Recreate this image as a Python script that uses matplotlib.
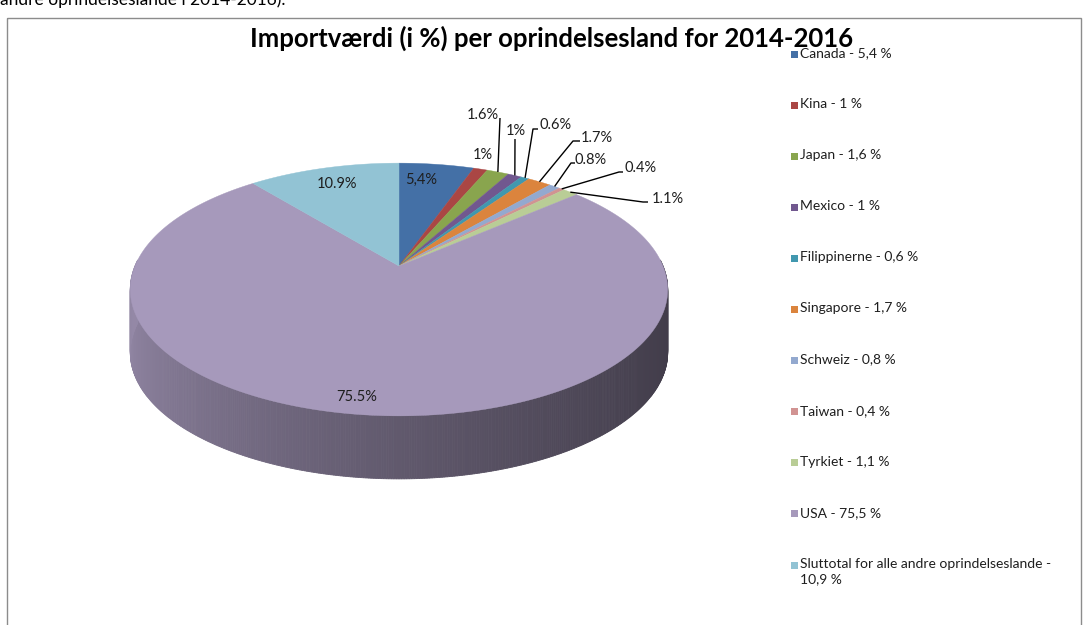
import numpy as np
import matplotlib
matplotlib.use("Agg")
import matplotlib.pyplot as plt
from matplotlib.patches import Polygon, Rectangle
from matplotlib.colors import to_rgb

# ---------------- data ----------------
categories = ["Canada", "Kina", "Japan", "Mexico", "Filippinerne", "Singapore",
              "Schweiz", "Taiwan", "Tyrkiet", "USA",
              "Sluttotal for alle andre oprindelseslande"]
values = [5.4, 1.0, 1.6, 1.0, 0.6, 1.7, 0.8, 0.4, 1.1, 75.5, 10.9]
legend_labels = ["Canada - 5,4 %", "Kina - 1 %", "Japan - 1,6 %", "Mexico - 1 %",
                 "Filippinerne - 0,6 %", "Singapore - 1,7 %", "Schweiz - 0,8 %",
                 "Taiwan - 0,4 %", "Tyrkiet - 1,1 %", "USA - 75,5 %",
                 "Sluttotal for alle andre oprindelseslande -\n10,9 %"]
slice_labels = ["5,4%", "1%", "1.6%", "1%", "0.6%", "1.7%", "0.8%", "0.4%",
                "1.1%", "75.5%", "10.9%"]
title = "Importværdi (i %) per oprindelsesland for 2014-2016"
top_text = "andre oprindelseslande i 2014-2016)."

# ---------------- style / layout ----------------
colors = ["#4470A6", "#AA4644", "#89A54E", "#71588F", "#4198AF", "#DB843D",
          "#93A9CF", "#D19392", "#B9CD96", "#A699BB", "#92C3D4"]
FONT = "Lato"
CX, CY = 399, 266          # apex of the pie on screen (pixels)
A, B, K = 264, 122, 0.186  # semi axes and perspective
H = 63                     # side thickness

# label layout: text centre, optional leader-line start points
label_layout = [
    ((421, 180), None),
    ((483, 155), None),
    ((483, 115), [(500, 118)]),
    ((516, 131), [(515, 139)]),
    ((556, 125), [(538, 129), (533, 129)]),
    ((597, 138), [(580, 141), (573, 141)]),
    ((591, 160), [(575, 163), (571, 163)]),
    ((641, 168), [(623, 172), (619, 172)]),
    ((668, 199), [(648, 202), (643, 202)]),
    ((357, 397), None),
    ((337, 184), None),
]


def proj(phi, drop=0.0):
    X = np.sin(phi)
    Z = np.cos(phi)
    s = 1.0 / (1.0 + K * Z)
    return CX + A * X * s, CY - B * Z * s + drop


def shade(rgb, phi):
    X = np.sin(phi)
    t = np.clip((1 + X) / 2, 0, 1)   # X=-1 (left) -> 0, X=+1 (right) -> 1
    f = 0.89 - 0.50 * t ** 0.7
    return tuple(np.clip(np.array(rgb) * f, 0, 1))


fig = plt.figure(figsize=(10.84, 6.25), dpi=100)
ax = fig.add_axes([0, 0, 1, 1])
ax.set_xlim(0, 1084)
ax.set_ylim(625, 0)
ax.axis("off")

# border of chart area
ax.add_patch(Rectangle((7, 18), 1074, 640, fill=False, edgecolor="#8c8c8c",
                       linewidth=1.0, zorder=1))

vals = np.array(values, dtype=float)
cum = np.concatenate([[0], np.cumsum(vals)]) / vals.sum() * 2 * np.pi

# side of the cylinder (front part)
front_lo, front_hi = np.pi / 2 - 0.05, 3 * np.pi / 2 + 0.05
for i, c in enumerate(colors):
    lo = max(cum[i], front_lo)
    hi = min(cum[i + 1], front_hi)
    if hi <= lo:
        continue
    n = max(2, int((hi - lo) / (np.pi / 400)))
    ph = np.linspace(lo, hi, n + 1)
    rgb = to_rgb(c)
    for p0, p1 in zip(ph[:-1], ph[1:]):
        x0, y0 = proj(p0)
        x1, y1 = proj(p1)
        col = shade(rgb, (p0 + p1) / 2)
        ax.add_patch(Polygon([(x0, y0), (x1, y1), (x1, y1 + H), (x0, y0 + H)],
                             closed=True, facecolor=col, edgecolor=col,
                             linewidth=0.6, zorder=2))

# top face
for i, c in enumerate(colors):
    n = max(4, int((cum[i + 1] - cum[i]) / (np.pi / 360)))
    ph = np.linspace(cum[i], cum[i + 1], n + 1)
    xs, ys = proj(ph)
    pts = [(CX, CY)] + list(zip(xs, ys))
    ax.add_patch(Polygon(pts, closed=True, facecolor=c, edgecolor=c,
                         linewidth=0.3, zorder=3))

# data labels + leader lines
for i, (lab, (pos, line)) in enumerate(zip(slice_labels, label_layout)):
    ax.text(pos[0], pos[1], lab, ha="center", va="center", fontsize=10.5,
            family=FONT, color="#1e1e1e", zorder=5)
    if line:
        mid = (cum[i] + cum[i + 1]) / 2
        ex, ey = proj(mid)
        pts = line + [(ex, ey)]
        ax.plot([p[0] for p in pts], [p[1] for p in pts], color="black",
                linewidth=1.0, zorder=4, solid_capstyle="butt")

# title
ax.text(552, 38, title, ha="center", va="center", fontsize=18.5,
        fontweight="bold", family=FONT, color="black", zorder=5)

# legend
for i, (lab, c) in enumerate(zip(legend_labels, colors)):
    y = 54 + i * 51.1
    ax.add_patch(Rectangle((790.5, y - 3.5), 7, 7, facecolor=c, edgecolor="none",
                           zorder=5))
    ax.text(800, y - 7, lab, ha="left", va="top", fontsize=10, family=FONT,
            color="#1e1e1e", linespacing=1.3, zorder=5)

# clipped text from the surrounding document
ax.text(0, 5, top_text, ha="left", va="baseline", fontsize=12.5, family=FONT,
        color="black", clip_on=False)

fig.savefig("out.png", dpi=100)
